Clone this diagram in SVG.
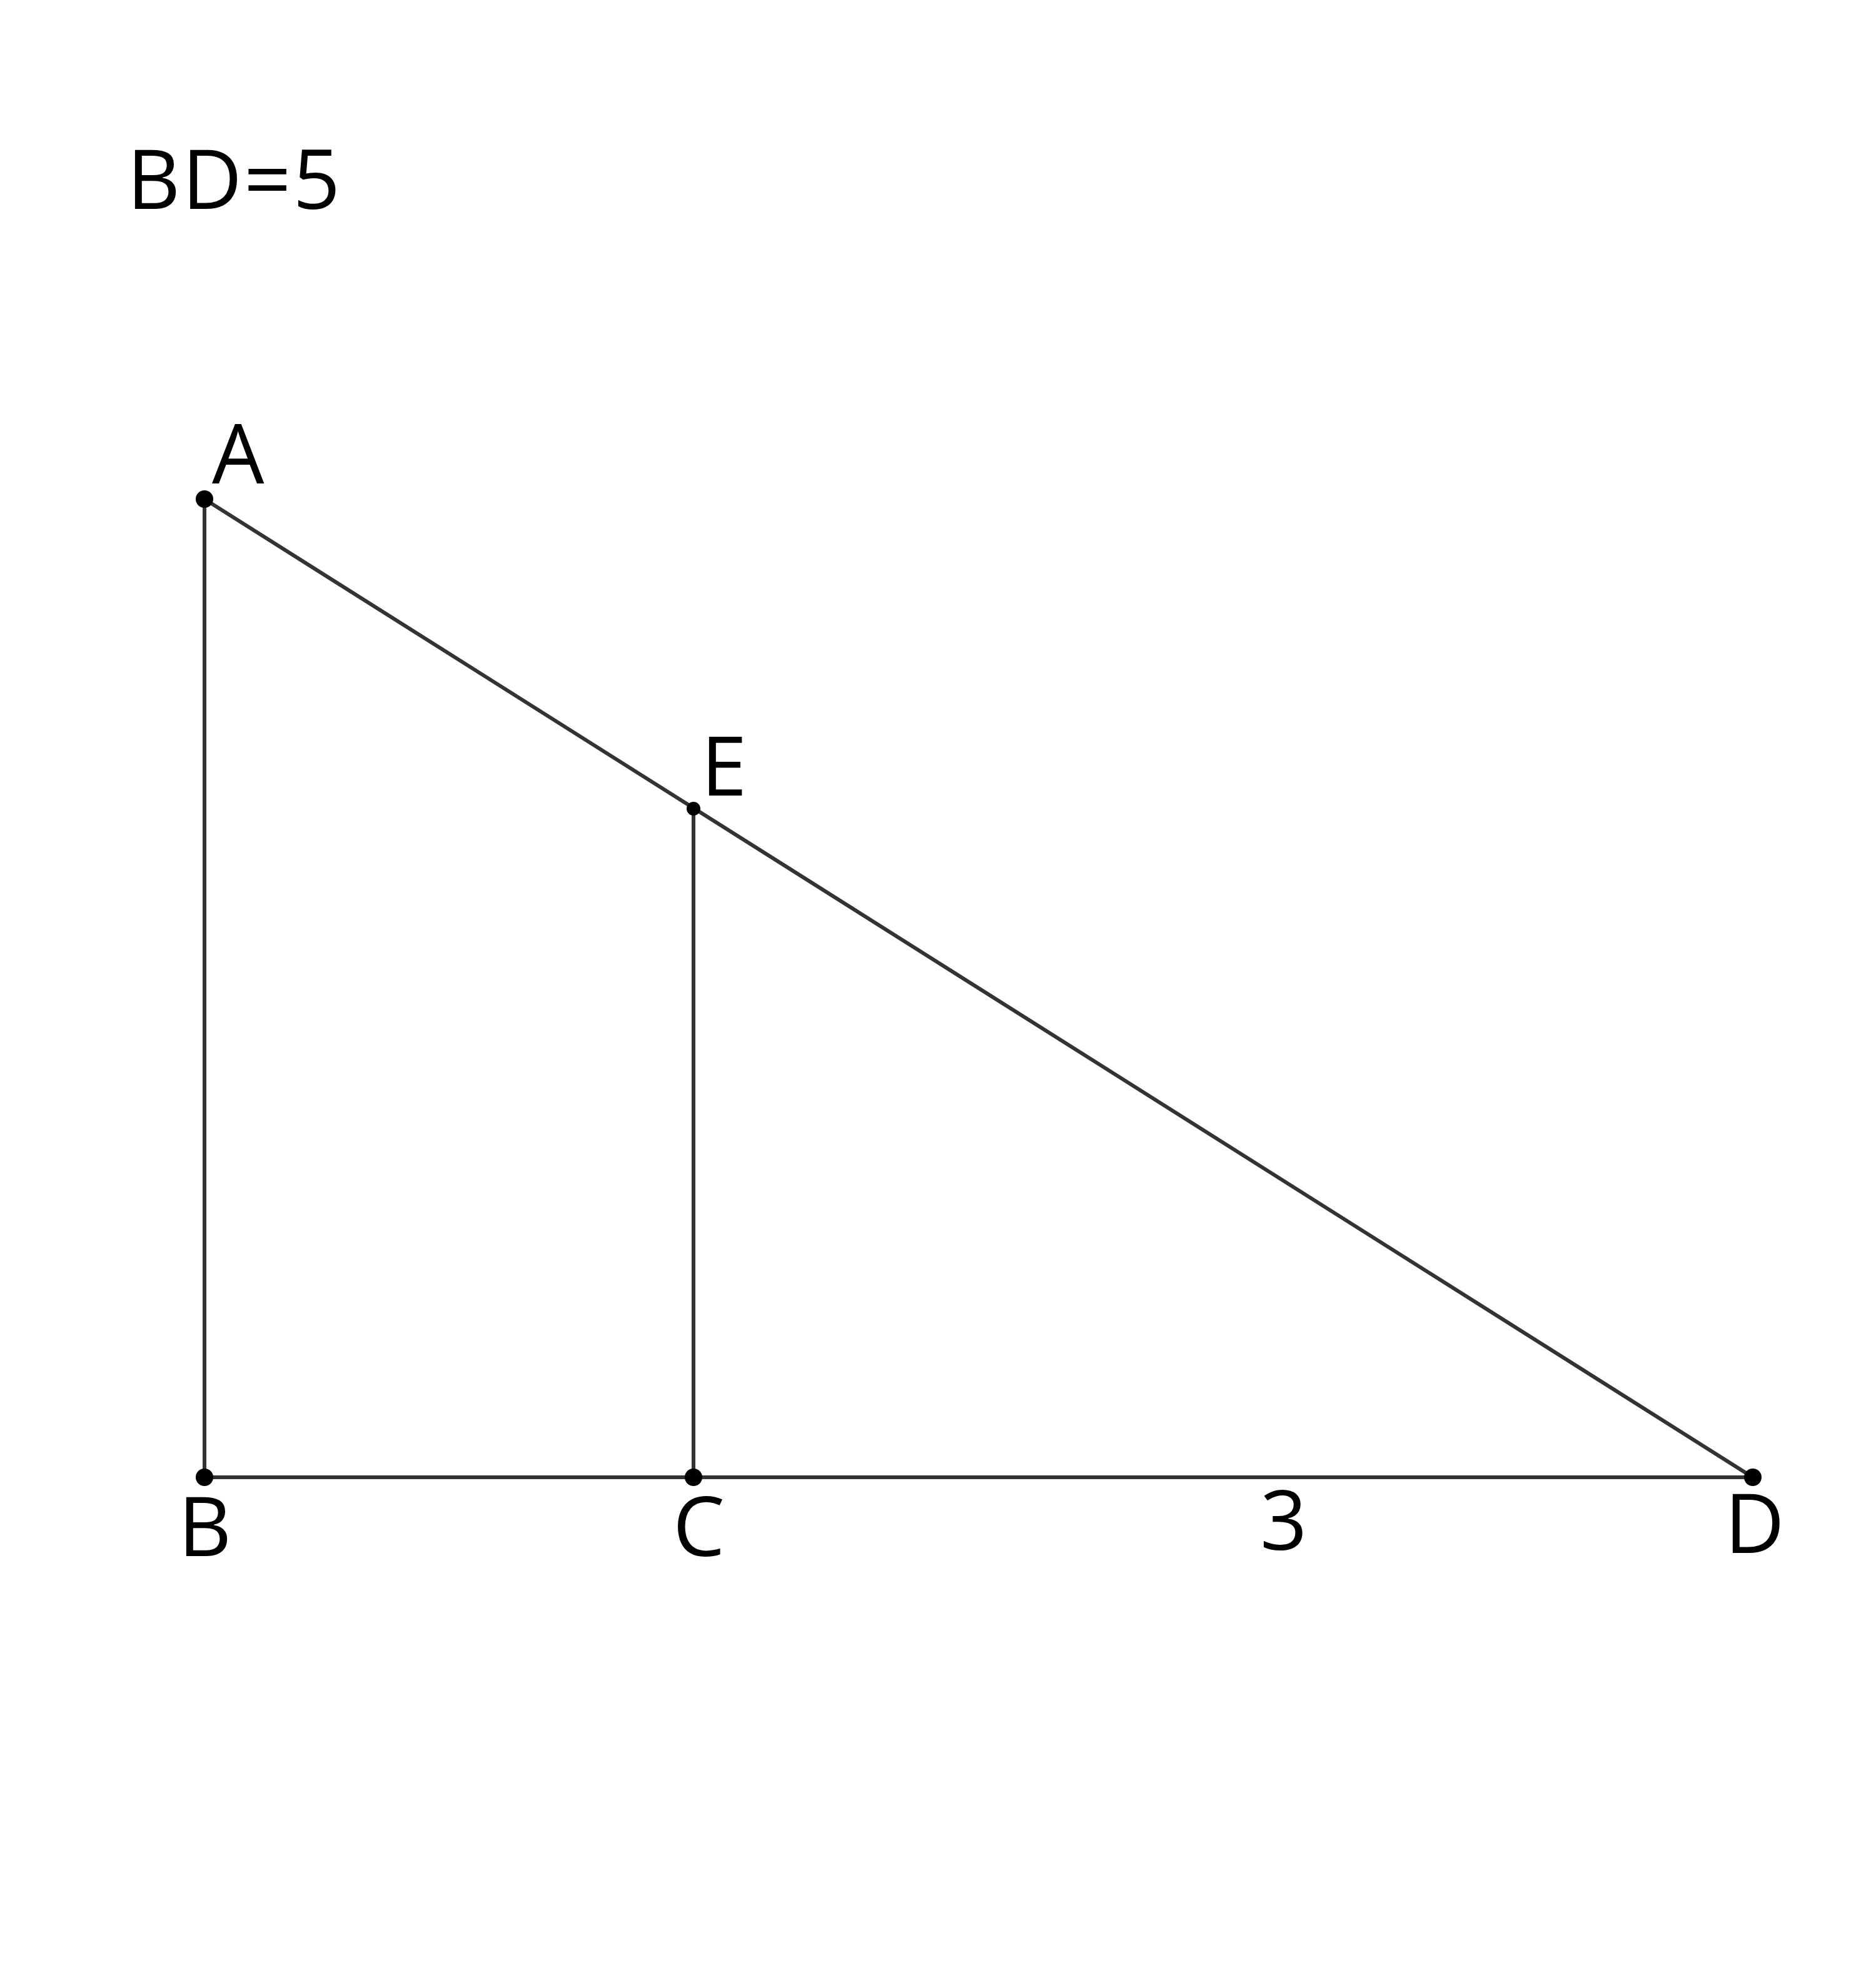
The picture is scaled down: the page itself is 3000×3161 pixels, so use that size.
<svg xmlns="http://www.w3.org/2000/svg" width="3000" height="3161" viewBox="0 0 3000 3161">
<style>
.seg{stroke:#333333;stroke-width:6;fill:none}
.pt{fill:#000000}
.lbl{font-family:"Open Sans","Liberation Sans",sans-serif;font-size:132px;fill:#000000}
</style>
<rect width="3000" height="3161" fill="#ffffff"/>
<text class="lbl" x="203" y="334" letter-spacing="3">BD=5</text>
<g id="connectors">
<line class="seg" x1="327" y1="798" x2="327" y2="2362"/>
<line class="seg" x1="327" y1="2362" x2="2803" y2="2362"/>
<line class="seg" x1="327" y1="798" x2="2803" y2="2362"/>
<line class="seg" x1="1109" y1="1293" x2="1109" y2="2362"/>
</g>
<g id="A"><circle class="pt" cx="327" cy="798" r="14"/><text class="lbl" x="339" y="773">A</text></g>
<g id="E"><circle class="pt" cx="1109" cy="1293" r="11"/><text class="lbl" x="1121" y="1272">E</text></g>
<g id="B"><circle class="pt" cx="327" cy="2362" r="14"/><text class="lbl" x="285" y="2488">B</text></g>
<g id="C"><circle class="pt" cx="1109" cy="2362" r="14"/><text class="lbl" x="1076" y="2488">C</text></g>
<g id="D"><circle class="pt" cx="2803" cy="2362" r="14"/><text class="lbl" x="2758" y="2483">D</text></g>
<text class="lbl" x="2015" y="2478">3</text>
</svg>
